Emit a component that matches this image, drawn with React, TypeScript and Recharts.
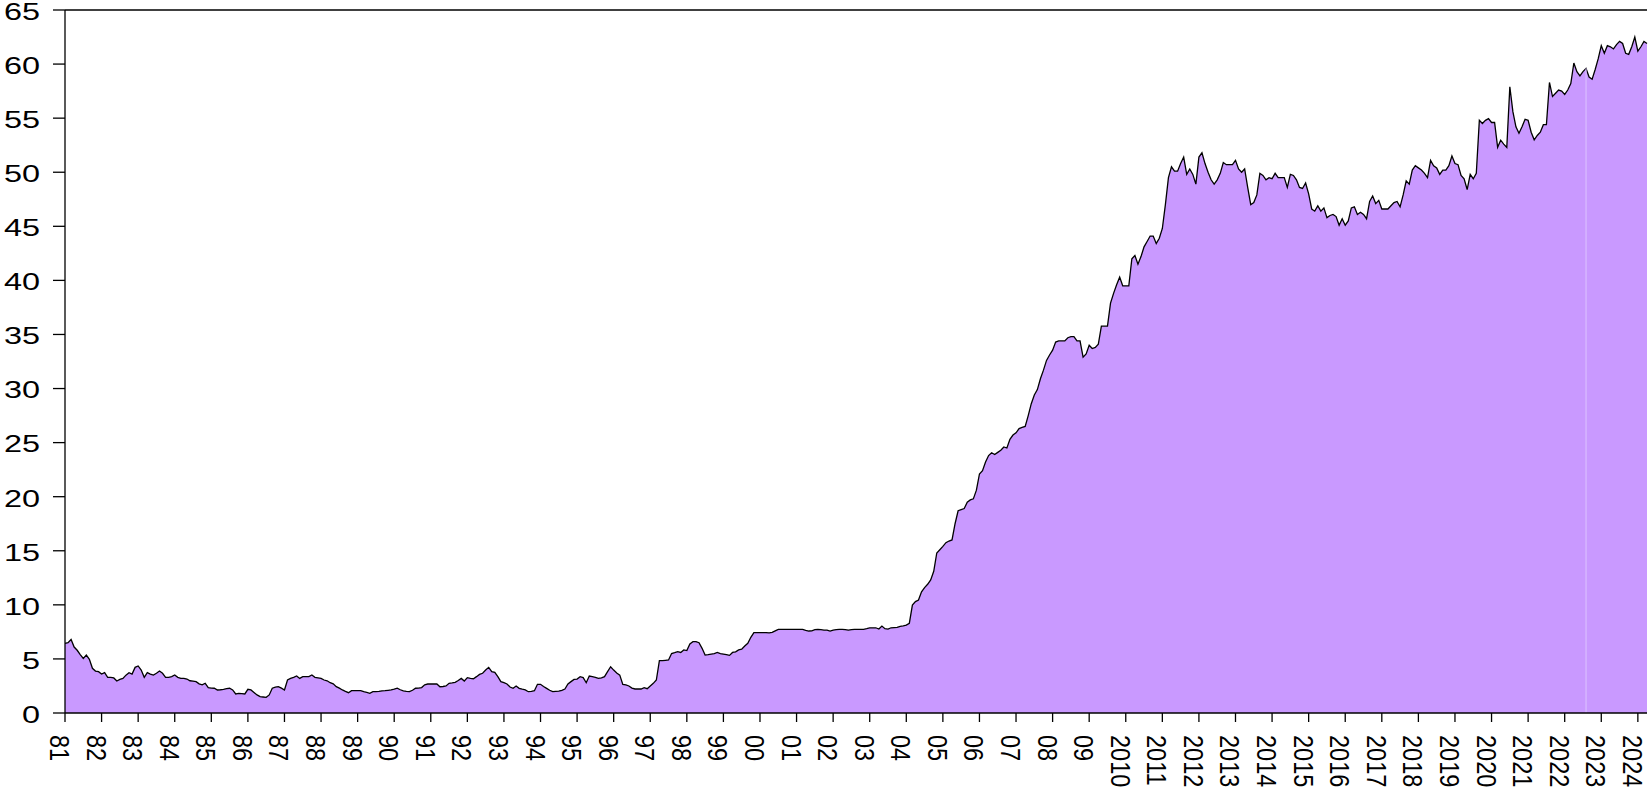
import React from "react";
import { AreaChart, Area, XAxis, YAxis, ReferenceLine } from "recharts";

// monthly values, one row per year, Jan 1981 .. Apr 2024
const v1980s = [
  6.44, 6.5, 6.8, 6.1, 5.8, 5.4, 5.05, 5.36, 4.96, 4.13, 3.88, 3.82,
  3.6, 3.73, 3.3, 3.3, 3.24, 2.96, 3.1, 3.2, 3.5, 3.73, 3.6, 4.22,
  4.35, 3.97, 3.3, 3.73, 3.6, 3.51, 3.67, 3.88, 3.67, 3.3, 3.3, 3.36,
  3.51, 3.3, 3.2, 3.2, 3.14, 2.98, 2.95, 2.9, 2.7, 2.6, 2.75, 2.35,
  2.3, 2.29, 2.13, 2.15, 2.19, 2.25, 2.29, 2.13, 1.76, 1.82, 1.8, 1.76,
  2.19, 2.13, 1.9, 1.67, 1.51, 1.48, 1.45, 1.67, 2.29, 2.4, 2.44, 2.3,
  2.13, 3.05, 3.2, 3.3, 3.42, 3.2, 3.36, 3.36, 3.36, 3.51, 3.3, 3.25,
  3.2, 3.05, 2.98, 2.8, 2.7, 2.44, 2.3, 2.13, 2.0, 1.88, 2.07, 2.07,
  2.07, 2.07, 1.97, 1.9, 1.82, 1.97, 1.97, 2.0, 2.05, 2.07, 2.1, 2.13,
];

const v1990s = [
  2.2, 2.29, 2.15, 2.04, 2.0, 1.97, 2.1, 2.29, 2.3, 2.35, 2.6, 2.68,
  2.68, 2.68, 2.68, 2.43, 2.45, 2.5, 2.74, 2.78, 2.83, 3.0, 3.2, 2.96,
  3.27, 3.2, 3.17, 3.36, 3.57, 3.67, 3.97, 4.22, 3.82, 3.76, 3.36, 2.9,
  2.8, 2.68, 2.4, 2.28, 2.5, 2.28, 2.2, 2.13, 1.97, 2.0, 2.06, 2.65,
  2.65, 2.45, 2.28, 2.1, 1.97, 2.0, 2.03, 2.1, 2.22, 2.68, 2.9, 3.11,
  3.14, 3.36, 3.27, 2.8, 3.42, 3.36, 3.3, 3.2, 3.25, 3.36, 3.82, 4.28,
  3.97, 3.7, 3.5, 2.65, 2.6, 2.5, 2.3, 2.22, 2.22, 2.22, 2.34, 2.25,
  2.5, 2.74, 3.05, 4.84, 4.84, 4.87, 4.9, 5.5, 5.58, 5.67, 5.6, 5.83,
  5.77, 6.39, 6.6, 6.6, 6.5, 5.98, 5.36, 5.4, 5.45, 5.5, 5.6, 5.5,
  5.45, 5.4, 5.33, 5.6, 5.65, 5.83, 5.9, 6.2, 6.45, 7.0, 7.44, 7.44,
];

const v2000s = [
  7.44, 7.44, 7.44, 7.4, 7.45, 7.6, 7.73, 7.73, 7.73, 7.73, 7.73, 7.73,
  7.73, 7.73, 7.73, 7.65, 7.58, 7.6, 7.7, 7.73, 7.7, 7.67, 7.67, 7.58,
  7.67, 7.7, 7.73, 7.73, 7.7, 7.67, 7.7, 7.73, 7.73, 7.73, 7.73, 7.8,
  7.88, 7.88, 7.88, 7.76, 8.04, 7.8, 7.76, 7.88, 7.9, 7.92, 8.0, 8.05,
  8.13, 8.3, 9.98, 10.3, 10.45, 11.2, 11.6, 11.9, 12.3, 13.1, 14.8, 15.1,
  15.4, 15.75, 15.9, 16.0, 17.5, 18.7, 18.8, 18.9, 19.5, 19.7, 19.8, 20.6,
  22.1, 22.4, 23.2, 23.8, 24.06, 23.9, 24.1, 24.3, 24.6, 24.5, 25.3, 25.7,
  25.9, 26.3, 26.4, 26.5, 27.5, 28.6, 29.4, 29.9, 30.9, 31.7, 32.6, 33.1,
  33.55, 34.3, 34.4, 34.4, 34.4, 34.7, 34.8, 34.8, 34.4, 34.4, 32.9, 33.2,
  34.0, 33.7, 33.8, 34.1, 35.77, 35.77, 35.77, 37.9, 38.8, 39.6, 40.3, 39.5,
];

const v2010s = [
  39.5, 39.5, 42.0, 42.3, 41.5, 42.2, 43.1, 43.6, 44.1, 44.1, 43.4, 43.9,
  44.8, 47.0, 49.5, 50.5, 50.1, 50.1, 50.8, 51.4, 49.8, 50.3, 49.8, 48.9,
  51.4, 51.8, 50.8, 50.0, 49.3, 48.9, 49.3, 49.9, 50.9, 50.7, 50.7, 50.7,
  51.1, 50.3, 50.0, 50.3, 48.6, 47.0, 47.2, 47.9, 49.9, 49.7, 49.3, 49.5,
  49.4, 49.9, 49.5, 49.5, 49.5, 48.6, 49.8, 49.7, 49.3, 48.6, 48.5, 49.0,
  48.0, 46.6, 46.4, 46.9, 46.4, 46.7, 45.8, 46.0, 46.1, 45.9, 45.1, 45.7,
  45.1, 45.5, 46.7, 46.8, 46.1, 46.3, 46.1, 45.7, 47.3, 47.8, 47.1, 47.4,
  46.6, 46.6, 46.6, 46.9, 47.2, 47.3, 46.8, 47.9, 49.2, 48.9, 50.2, 50.6,
  50.4, 50.2, 49.9, 49.5, 51.1, 50.6, 50.4, 49.8, 50.2, 50.2, 50.6, 51.5,
  50.8, 50.7, 49.7, 49.4, 48.4, 49.8, 49.4, 49.9, 54.8, 54.5, 54.8, 54.96,
];

const v2020s = [
  54.6, 54.6, 52.3, 52.96, 52.6, 52.3, 57.9, 55.6, 54.2, 53.6, 54.2, 54.9,
  54.8, 53.7, 53.0, 53.4, 53.7, 54.4, 54.4, 58.3, 57.0, 57.3, 57.6, 57.5,
  57.2, 57.6, 58.2, 60.1, 59.3, 58.9, 59.3, 59.6, 58.8, 58.6, 59.5, 60.5,
  61.7, 61.0, 61.7, 61.6, 61.4, 61.8, 62.1, 61.9, 61.0, 60.9, 61.6, 62.5,
  61.2, 61.6, 62.1, 61.9,
];

const yearLabels = [
  "81", "82", "83", "84", "85", "86", "87", "88", "89", "90",
  "91", "92", "93", "94", "95", "96", "97", "98", "99", "00",
  "01", "02", "03", "04", "05", "06", "07", "08", "09", "2010",
  "2011", "2012", "2013", "2014", "2015", "2016", "2017", "2018", "2019", "2020",
  "2021", "2022", "2023", "2024",
];

const yTicks = [0, 5, 10, 15, 20, 25, 30, 35, 40, 45, 50, 55, 60, 65];

const monthly = [...v1980s, ...v1990s, ...v2000s, ...v2010s, ...v2020s];
const data = monthly.map((v, i) => ({ t: i, v }));
const xTicks = yearLabels.map((_, i) => i * 12);
const lastT = monthly.length - 1;

const FONT = "'Liberation Sans', Arial, Helvetica, sans-serif";

const XTick = ({ x, y, payload }: any) => (
  <text
    transform={`translate(${x - 15}, ${y}) rotate(90) scale(1, 1.15)`}
    fontSize={23.5}
    fontFamily={FONT}
    fill="#000"
  >
    {yearLabels[Math.round(payload.value / 12)]}
  </text>
);

const YTick = ({ x, y, payload }: any) => (
  <text
    transform={`translate(${x}, ${y}) scale(1.38, 1)`}
    textAnchor="end"
    dy="0.42em"
    fontSize={23.5}
    fontFamily={FONT}
    fill="#000"
  >
    {payload.value}
  </text>
);

export default function App() {
  return (
    <div style={{ position: "absolute", left: 0, top: 0, background: "#fff" }}>
      <AreaChart
        width={1648}
        height={793}
        data={data}
        margin={{ top: 10, right: 1, bottom: 0, left: 0 }}
      >
        <XAxis
          dataKey="t"
          type="number"
          domain={[0, lastT]}
          ticks={xTicks}
          interval={0}
          height={80}
          tickSize={9}
          tickMargin={13}
          stroke="#000"
          strokeWidth={1.3}
          tick={<XTick />}
        />
        <YAxis
          type="number"
          domain={[0, 65]}
          ticks={yTicks}
          interval={0}
          width={65}
          tickSize={12}
          tickMargin={13}
          stroke="#000"
          strokeWidth={1.3}
          tick={<YTick />}
        />
        <Area
          type="linear"
          dataKey="v"
          stroke="#000"
          strokeWidth={1.3}
          fill="#C999FF"
          fillOpacity={1}
          dot={false}
          activeDot={false}
          isAnimationActive={false}
        />
        <ReferenceLine
          segment={[
            { x: 499, y: 0 },
            { x: 499, y: monthly[499] },
          ]}
          stroke="#DCC6FF"
          strokeWidth={1}
        />
        <ReferenceLine y={65} stroke="#000" strokeWidth={1.3} />
      </AreaChart>
    </div>
  );
}
